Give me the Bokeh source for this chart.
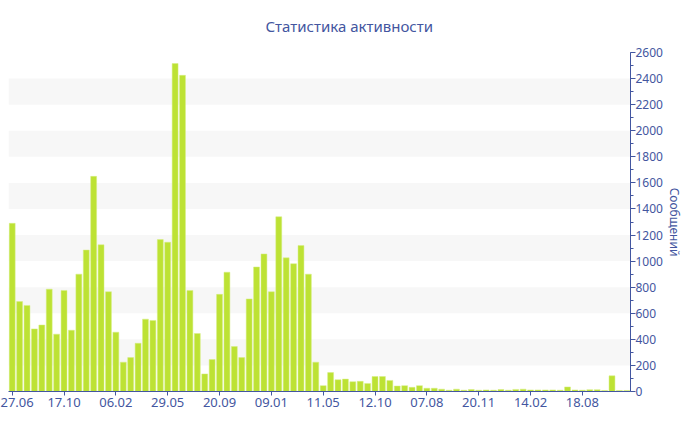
from bokeh.plotting import figure
from bokeh.models import (Range1d, LinearAxis, FixedTicker, SingleIntervalTicker, Title)
from bokeh.embed import file_html
from bokeh.resources import INLINE

# ---- data ----
values = [1290, 690, 660, 480, 510, 785, 440, 775, 470, 900,
          1085, 1650, 1125, 765, 455, 225, 260, 370, 555, 545,
          1165, 1145, 2515, 2425, 775, 445, 135, 245, 745, 915,
          345, 260, 710, 955, 1055, 765, 1340, 1025, 980, 1120,
          900, 225, 45, 145, 90, 95, 75, 78, 62, 115,
          115, 85, 42, 45, 32, 45, 25, 25, 18, 10,
          18, 10, 15, 10, 12, 10, 15, 10, 16, 18,
          12, 12, 12, 12, 10, 35, 12, 10, 14, 14,
          8, 120, 8, 8]
bar_index = list(range(len(values)))
tick_positions = [0, 7, 14, 21, 28, 35, 42, 49, 56, 63, 70, 77]
tick_labels = ["27.06", "17.10", "06.02", "29.05", "20.09", "09.01",
               "11.05", "12.10", "07.08", "20.11", "14.02", "18.08"]
title_text = "Статистика активности"
y_title = "Сообщений"
y_max = 2600

FONT = "Noto Sans"
BLUE = "#4356a0"

p = figure(width=684, height=414, output_backend="svg", toolbar_location=None,
           x_range=Range1d(-0.5, len(values) - 0.5), y_range=Range1d(0, y_max),
           min_border_left=8, min_border_top=0, min_border_bottom=23, min_border_right=0)
p.background_fill_color = "white"
p.border_fill_color = "white"
p.outline_line_color = None

t = Title(text=title_text, align="left", offset=257, text_font=FONT,
          text_font_size="15px", text_font_style="normal", text_color=BLUE,
          vertical_align="top", standoff=30)
p.add_layout(t, "above")

p.vbar(x=bar_index, top=values, width=0.8, color="#bde234", line_color="#d6ee85",
       line_width=0.5)

# right value axis
p.yaxis.visible = False
yax = LinearAxis(ticker=SingleIntervalTicker(interval=200, num_minor_ticks=2))
yax.major_label_text_font = FONT
yax.major_label_text_font_size = "12px"
yax.major_label_text_color = BLUE
yax.major_label_standoff = 0
yax.axis_line_color = BLUE
yax.major_tick_line_color = BLUE
yax.minor_tick_line_color = BLUE
yax.major_tick_out = 5
yax.major_tick_in = 0
yax.minor_tick_out = 3
yax.minor_tick_in = 0
p.add_layout(yax, "right")

# axis title as a side title
yt = Title(text=y_title, align="center", text_font=FONT, text_font_size="12px",
           text_font_style="normal", text_color=BLUE, standoff=0)
p.add_layout(yt, "right")

xax = p.xaxis[0]
xax.ticker = FixedTicker(ticks=tick_positions)
xax.major_label_overrides = {pos: lab for pos, lab in zip(tick_positions, tick_labels)}
xax.major_label_text_font = FONT
xax.major_label_text_font_size = "13px"
xax.major_label_text_color = BLUE
xax.major_label_standoff = 2
xax.axis_line_color = BLUE
xax.major_tick_line_color = BLUE
xax.major_tick_out = 4
xax.major_tick_in = 0
xax.minor_tick_line_color = None

p.xgrid.grid_line_color = None
p.ygrid.grid_line_color = None
p.ygrid.ticker = SingleIntervalTicker(interval=200)
p.ygrid.band_fill_color = "#f7f7f7"
p.ygrid.band_fill_alpha = 1.0
p.yaxis[0].ticker = SingleIntervalTicker(interval=200)

open("out.html", "w").write(file_html(p, INLINE))
